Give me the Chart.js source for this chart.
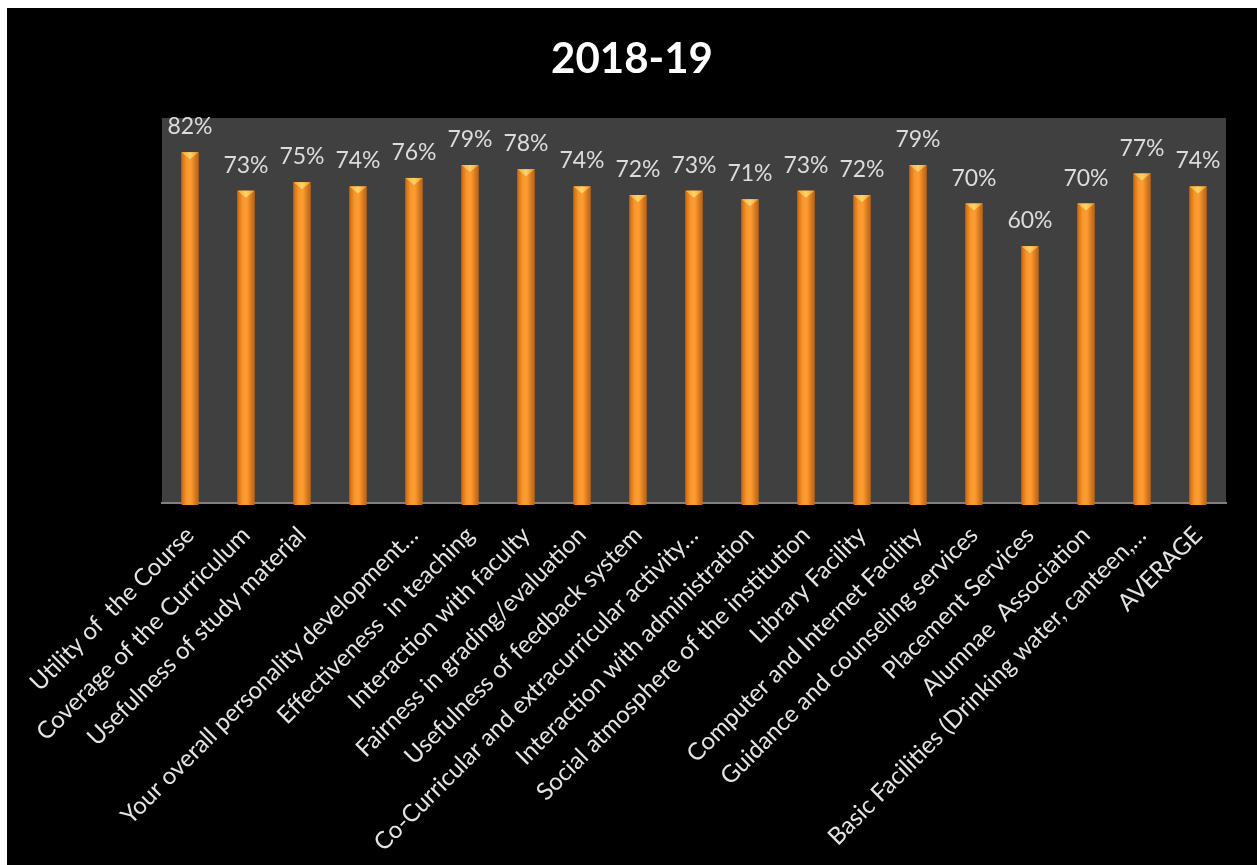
<!DOCTYPE html>
<html lang="en">
<head>
  <meta charset="UTF-8" />
  <title>2018-19 Feedback</title>
  <script src="https://cdn.jsdelivr.net/npm/chart.js"></script>
  <style>
    html, body {
      margin: 0;
      padding: 0;
      background: #ffffff;
    }
    #wrap {
      position: absolute;
      left: 7px;
      top: 8px;
      width: 1250px;
      height: 857px;
      background: #000000;
    }
  </style>
</head>
<body>
  <div id="wrap"><canvas id="feedbackChart"></canvas></div>

  <script>
    // ------------------ Data ------------------
    const chartTitle = '2018-19';
    const categories = [
      'Utility of  the Course',
      'Coverage of the Curriculum',
      'Usefulness of study material',
      '',
      'Your overall personality development\u2026',
      'Effectiveness  in teaching',
      'Interaction with faculty',
      'Fairness in grading/evaluation',
      'Usefulness of feedback system',
      'Co-Curricular and extracurricular activity\u2026',
      'Interaction with administration',
      'Social atmosphere of the institution',
      'Library Facility',
      'Computer and Internet Facility',
      'Guidance and counseling services',
      'Placement Services',
      'Alumnae  Association',
      'Basic Facilities (Drinking water, canteen,\u2026',
      'AVERAGE'
    ];
    const scores = [82, 73, 75, 74, 76, 79, 78, 74, 72, 73, 71, 73, 72, 79, 70, 60, 70, 77, 74];
    const yMax = 90;

    // dark grey plot background + title centred on the whole canvas
    const frame = {
      id: 'frame',
      beforeDraw(chart) {
        const { ctx, chartArea: a, width } = chart;
        ctx.save();
        ctx.fillStyle = '#404040';
        ctx.fillRect(a.left, a.top, a.right - a.left, a.bottom - a.top);
        ctx.fillStyle = '#ffffff';
        ctx.font = 'bold 42px Lato';
        ctx.textAlign = 'center';
        ctx.textBaseline = 'alphabetic';
        ctx.fillText(chartTitle, width / 2, 65);
        ctx.restore();
      }
    };

    // cylinder shading, cone cap and value labels
    const cylinderBars = {
      id: 'cylinderBars',
      afterDatasetsDraw(chart) {
        const ctx = chart.ctx;
        const meta = chart.getDatasetMeta(0);
        ctx.save();
        meta.data.forEach((bar, i) => {
          const w = bar.width;
          const x0 = bar.x - w / 2;
          const top = bar.y;
          const h = bar.base - bar.y;

          const g = ctx.createLinearGradient(x0, 0, x0 + w, 0);
          g.addColorStop(0, '#CC6A12');
          g.addColorStop(0.3, '#F8982E');
          g.addColorStop(0.55, '#FA9C32');
          g.addColorStop(1, '#C0600E');
          ctx.fillStyle = g;
          ctx.fillRect(x0, top, w, h + 2);

          // cone cap
          const cg = ctx.createLinearGradient(x0, 0, x0 + w, 0);
          cg.addColorStop(0, '#F5A838');
          cg.addColorStop(0.5, '#FFD468');
          cg.addColorStop(1, '#EC9A2C');
          ctx.fillStyle = cg;
          ctx.beginPath();
          ctx.moveTo(x0, top);
          ctx.lineTo(x0 + w, top);
          ctx.lineTo(bar.x, top + 7);
          ctx.closePath();
          ctx.fill();

          // value label
          ctx.fillStyle = '#DCDCDC';
          ctx.font = '23px Lato';
          ctx.textAlign = 'center';
          ctx.textBaseline = 'alphabetic';
          ctx.fillText(scores[i] + '%', bar.x, top - 18);
        });
        ctx.restore();
      }
    };

    const ctx = document.getElementById('feedbackChart').getContext('2d');
    new Chart(ctx, {
      type: 'bar',
      data: {
        labels: categories,
        datasets: [{
          data: scores,
          backgroundColor: '#F39028',
          borderWidth: 0,
          barPercentage: 0.6,
          categoryPercentage: 0.5
        }]
      },
      options: {
        responsive: true,
        maintainAspectRatio: false,
        animation: false,
        layout: { padding: { left: 155, right: 31, top: 110, bottom: 0 } },
        plugins: {
          legend: { display: false },
          tooltip: { enabled: false },
          title: { display: false }
        },
        scales: {
          x: {
            grid: { display: false, drawTicks: false },
            border: { display: true, color: '#808080', width: 2 },
            ticks: {
              color: '#E4E4E4',
              font: { family: 'Lato', size: 24 },
              minRotation: 45,
              maxRotation: 45,
              autoSkip: false,
              padding: 18
            },
            afterFit(scale) {
              scale.paddingLeft = 0;
              scale.paddingRight = 0;
              scale.height = 362;
            }
          },
          y: {
            display: false,
            min: 0,
            max: yMax
          }
        }
      },
      plugins: [frame, cylinderBars]
    });
  </script>
</body>
</html>
